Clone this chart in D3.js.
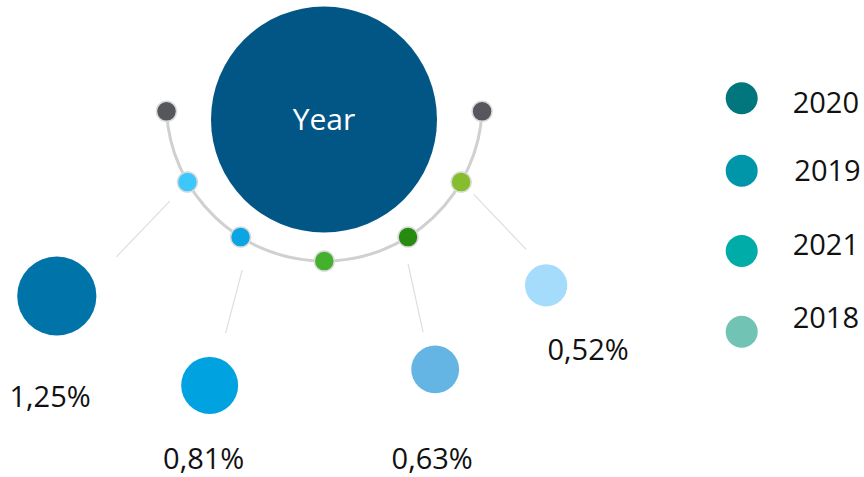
<!DOCTYPE html>
<html>
<head>
<meta charset="utf-8">
<script src="https://cdn.jsdelivr.net/npm/d3@7"></script>
<style>
  html, body { margin: 0; padding: 0; background: #fff; }
  svg { display: block; }
  text { font-family: "Open Sans", "DejaVu Sans", sans-serif; }
</style>
</head>
<body>
<svg id="chart" width="864" height="477"></svg>
<script>
// ---- data ----
const centerLabel = "Year";
const shareValues = [1.25, 0.81, 0.63, 0.52];
const shareColors = ["#0073a8", "#00a2e0", "#64b5e4", "#a5dcfb"];
const legendYears = ["2020", "2019", "2021", "2018"];
const legendColors = ["#02767d", "#0096a9", "#00aca8", "#71c3b4"];
const nodeColors = ["#55575c", "#3dc8fd", "#0ca5e3", "#44b02d", "#288b11", "#85bd2c", "#55575c"];

// ---- layout ----
const hub = { x: 324.3, y: 103.1, r: 158 };          // centre and radius of the grey arc
const bigCircle = { x: 324, y: 119.5, r: 113 };
const nodeAngles = [-87, -60, -32, 0, 32, 60, 87];  // degrees from straight down, + to the right
const nodeLinks = [1, 2, 4, 5];                     // node feeding each share bubble
const bubbleAngles = [-54.2, -22.1, 22.6, 50.6];
const bubbleDist = [329.8, 304.7, 288.5, 287.1];
const leaderFrom = [[-17.7, 19], [1.7, 32.7], [0, 26.6], [12.6, 12.3]];   // offsets from the node
const leaderTo = [[-71, 74.7], [-15, 96], [15, 95], [65, 67.3]];
const labelOffsets = [[-6.7, 111], [-6, 84], [-3, 99.5], [42, 75]];
const legendDotY = [98.3, 170.7, 251, 331.7];
const legendTextY = [113.3, 181, 255, 328.3];
const legendTextX = [792.7, 794.3, 792.7, 792.7];

const fmt = v => d3.format(".2f")(v).replace(".", ",") + "%";
const rad = d => d * Math.PI / 180;
const polar = (deg, dist) => ({ x: hub.x + dist * Math.sin(rad(deg)), y: hub.y + dist * Math.cos(rad(deg)) });

const rScale = d3.scaleLinear().domain([0, 1.25]).range([8, 39.6]);

const svg = d3.select("#chart");

// grey arc carrying the nodes
svg.append("path")
  .attr("transform", `translate(${hub.x},${hub.y})`)
  .attr("d", d3.arc()({
    innerRadius: hub.r, outerRadius: hub.r,
    startAngle: Math.PI - rad(87), endAngle: Math.PI + rad(87)
  }))
  .attr("fill", "none")
  .attr("stroke", "#d0d0d0")
  .attr("stroke-width", 3);

// large centre circle
svg.append("circle")
  .attr("cx", bigCircle.x).attr("cy", bigCircle.y).attr("r", bigCircle.r)
  .attr("fill", "#025686");
svg.append("text")
  .attr("x", bigCircle.x).attr("y", 130)
  .attr("text-anchor", "middle")
  .attr("font-size", 30)
  .attr("fill", "#ffffff")
  .text(centerLabel);

const nodes = nodeAngles.map(a => polar(a, hub.r));
const bubbles = shareValues.map((v, i) => Object.assign(polar(bubbleAngles[i], bubbleDist[i]), { v, i }));

// leader lines from nodes toward the bubbles
svg.append("g").selectAll("line")
  .data(bubbles)
  .join("line")
  .attr("x1", d => nodes[nodeLinks[d.i]].x + leaderFrom[d.i][0])
  .attr("y1", d => nodes[nodeLinks[d.i]].y + leaderFrom[d.i][1])
  .attr("x2", d => nodes[nodeLinks[d.i]].x + leaderTo[d.i][0])
  .attr("y2", d => nodes[nodeLinks[d.i]].y + leaderTo[d.i][1])
  .attr("stroke", "#dedede")
  .attr("stroke-width", 1.2);

// nodes on the arc
svg.append("g").selectAll("circle")
  .data(nodes)
  .join("circle")
  .attr("cx", d => d.x).attr("cy", d => d.y).attr("r", 10)
  .attr("fill", (d, i) => nodeColors[i])
  .attr("stroke", "#dadada")
  .attr("stroke-width", 1.5);

// share bubbles
svg.append("g").selectAll("circle")
  .data(bubbles)
  .join("circle")
  .attr("cx", d => d.x).attr("cy", d => d.y)
  .attr("r", d => rScale(d.v))
  .attr("fill", d => shareColors[d.i]);

svg.append("g").selectAll("text")
  .data(bubbles)
  .join("text")
  .attr("x", d => d.x + labelOffsets[d.i][0])
  .attr("y", d => d.y + labelOffsets[d.i][1])
  .attr("text-anchor", "middle")
  .attr("font-size", 29)
  .attr("fill", "#111")
  .text(d => fmt(d.v));

// legend
const lg = svg.append("g");
lg.selectAll("circle")
  .data(legendYears)
  .join("circle")
  .attr("cx", 741.7)
  .attr("cy", (d, i) => legendDotY[i])
  .attr("r", 16)
  .attr("fill", (d, i) => legendColors[i]);
lg.selectAll("text")
  .data(legendYears)
  .join("text")
  .attr("x", (d, i) => legendTextX[i])
  .attr("y", (d, i) => legendTextY[i])
  .attr("font-size", 29)
  .attr("fill", "#111")
  .text(d => d);
</script>
</body>
</html>
